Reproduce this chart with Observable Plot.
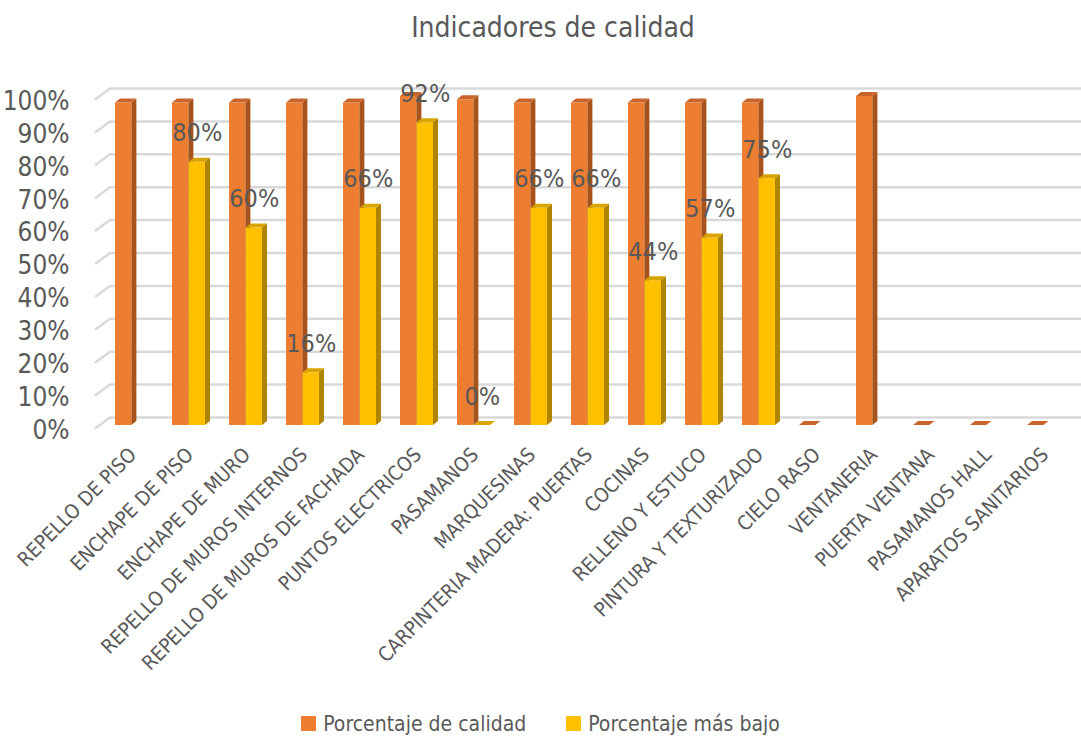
<!DOCTYPE html>
<html><head><meta charset="utf-8">
<script src="https://cdn.jsdelivr.net/npm/d3@7"></script>
<script src="https://cdn.jsdelivr.net/npm/@observablehq/plot@0.6"></script>
<style>
body{margin:0;background:#fff;font-family:'Liberation Sans Narrow','DejaVu Sans Condensed',sans-serif;color:#595959;width:1081px}
#title{height:55px;line-height:55px;text-align:center;font-size:28px;padding-left:25px;box-sizing:border-box}
#legend{display:flex;justify-content:center;align-items:center;height:37px;font-size:21px}
.item{display:flex;align-items:center;margin:0 20px}
.sw{width:15px;height:15px;margin-right:7px}
</style></head>
<body>
<div id="title">Indicadores de calidad</div>
<div id="chart"></div>
<div id="legend"></div>
<script>
const categories = ["REPELLO DE PISO","ENCHAPE DE PISO","ENCHAPE DE MURO","REPELLO DE MUROS INTERNOS","REPELLO DE MUROS DE FACHADA","PUNTOS ELECTRICOS","PASAMANOS","MARQUESINAS","CARPINTERIA MADERA: PUERTAS","COCINAS","RELLENO Y ESTUCO","PINTURA Y TEXTURIZADO","CIELO RASO","VENTANERIA","PUERTA VENTANA","PASAMANOS HALL","APARATOS SANITARIOS"];
const calidad = [98,98,98,98,98,100,99,98,98,98,98,98,0,100,0,0,0];
const masBajo = [null,80,60,16,66,92,0,66,66,44,57,75,null,null,null,null,null];
const yTicks = [0,10,20,30,40,50,60,70,80,90,100];
const seriesNames = ["Porcentaje de calidad","Porcentaje más bajo"];
const seriesColors = ["#ED7D31","#FFC000"];
const sideColors = ["#A9531C","#AE8400"];
const topColors = ["#C9642A","#D9A300"];

const W = 1081, H = 650, ML = 101, MR = 6, MT = 41, MB = 280;
const step = (W - ML - MR) / categories.length;
const half = step * 0.58 / 2;

const rowsA = categories.map((c, i) => ({cat: c, v: calidad[i]}));
const rowsB = categories.map((c, i) => ({cat: c, v: masBajo[i]})).filter(d => d.v != null);

const NS = "http://www.w3.org/2000/svg";
function box3d(side, top, d = 5, dd = 4) {
  return (index, scales, values, dims, ctx, next) => {
    const g = next(index, scales, values, dims, ctx);
    const rects = Array.from(g.querySelectorAll("rect"));
    for (const r of rects) {
      const x = +r.getAttribute("x"), y = +r.getAttribute("y");
      const w = +r.getAttribute("width"), h = +r.getAttribute("height");
      const ps = document.createElementNS(NS, "polygon");
      ps.setAttribute("points", `${x+w},${y} ${x+w+d},${y-dd} ${x+w+d},${y+h-dd} ${x+w},${y+h}`);
      ps.setAttribute("fill", side);
      const pt = document.createElementNS(NS, "polygon");
      pt.setAttribute("points", `${x},${y} ${x+d},${y-dd} ${x+w+d},${y-dd} ${x+w},${y}`);
      pt.setAttribute("fill", top);
      g.appendChild(ps); g.appendChild(pt);
    }
    return g;
  };
}

function wallGrid(index, scales, values, dims) {
  const g = document.createElementNS(NS, "g");
  for (const i of index) {
    const y = values.y[i];
    const p = document.createElementNS(NS, "path");
    p.setAttribute("d", `M${dims.marginLeft - 6},${y + 3.5}L${dims.marginLeft + 9},${y - 7.5}H${dims.width}`);
    p.setAttribute("stroke", "#D9D9D9");
    p.setAttribute("stroke-width", 2.5);
    p.setAttribute("fill", "none");
    g.appendChild(p);
  }
  return g;
}

const chart = Plot.plot({
  width: W, height: H,
  marginLeft: ML, marginRight: MR, marginTop: MT, marginBottom: MB,
  style: {fontFamily: "'Liberation Sans Narrow','DejaVu Sans Condensed',sans-serif", color: "#595959", background: "#fff"},
  x: {domain: categories, paddingInner: 0.42, paddingOuter: 0.21, axis: null},
  y: {domain: [0, 100], axis: null},
  marks: [
    Plot.ruleY(yTicks, {y: d => d, render: wallGrid}),
    Plot.barY(rowsA, {x: "cat", y: "v", fill: seriesColors[0], insetRight: half, render: box3d(sideColors[0], topColors[0])}),
    Plot.barY(rowsB, {x: "cat", y: "v", fill: seriesColors[1], insetLeft: half, render: box3d(sideColors[1], topColors[1])}),
    Plot.text(rowsB, {x: "cat", y: "v", text: d => d.v + "%", dx: half / 2, dy: -29, fontSize: 25, fill: "#595959"}),
    Plot.axisY({ticks: yTicks, tickFormat: d => d + "%", tickSize: 0, tickPadding: 32, fontSize: 26, dy: 5, label: null}),
    Plot.axisX({tickRotate: -45, tickSize: 0, tickPadding: 26, fontSize: 20, dx: 1, textAnchor: "end", label: null})
  ]
});
document.getElementById("chart").appendChild(chart);

const legend = document.getElementById("legend");
seriesNames.forEach((n, i) => {
  const it = document.createElement("div"); it.className = "item";
  const sw = document.createElement("div"); sw.className = "sw"; sw.style.background = seriesColors[i];
  const t = document.createElement("span"); t.textContent = n;
  it.appendChild(sw); it.appendChild(t); legend.appendChild(it);
});
</script>
</body></html>
